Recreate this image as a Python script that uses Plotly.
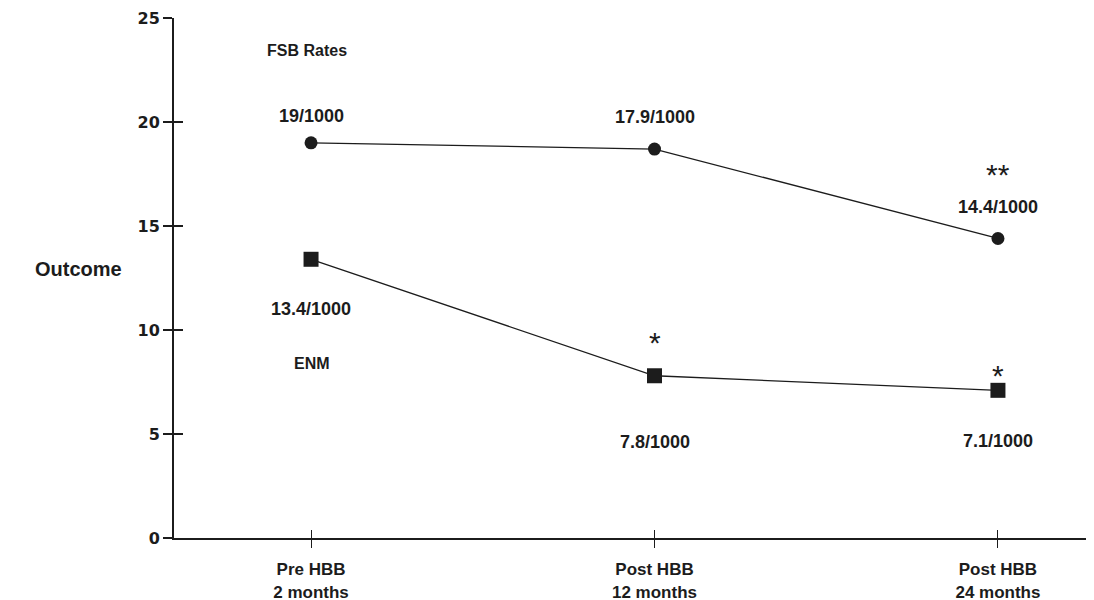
import plotly.graph_objects as go

categories = ["Pre HBB<br>2 months", "Post HBB<br>12 months", "Post HBB<br>24 months"]
fsb_values = [19.0, 18.7, 14.4]
fsb_labels = ["19/1000", "17.9/1000", "14.4/1000"]
enm_values = [13.4, 7.8, 7.1]
enm_labels = ["13.4/1000", "7.8/1000", "7.1/1000"]
y_ticks = [0, 5, 10, 15, 20, 25]

xpos = list(range(len(categories)))
INK = "#1c1c1c"
FONT = "Liberation Sans"

fig = go.Figure()
fig.add_trace(go.Scatter(x=xpos, y=fsb_values, mode="lines+markers",
                         line=dict(color=INK, width=1.3),
                         marker=dict(symbol="circle", size=13, color=INK),
                         showlegend=False, hoverinfo="skip"))
fig.add_trace(go.Scatter(x=xpos, y=enm_values, mode="lines+markers",
                         line=dict(color=INK, width=1.3),
                         marker=dict(symbol="square", size=15, color=INK),
                         showlegend=False, hoverinfo="skip"))
# invisible trace hosting the overlay axes (inner halves of the crossing ticks)
fig.add_trace(go.Scatter(x=xpos, y=fsb_values, xaxis="x2", yaxis="y2", mode="markers",
                         marker=dict(opacity=0), showlegend=False, hoverinfo="skip"))

ann = []
def lab(x, y, text, shift, size=18):
    ann.append(dict(x=x, y=y, xref="x", yref="y", text=f"<b>{text}</b>",
                    showarrow=False, yshift=shift,
                    font=dict(family=FONT, size=size, color=INK)))

fsb_shift = [26.5, 32.5, 31.5]
enm_shift = [-50, -66, -51]
for i in xpos:
    lab(i, fsb_values[i], fsb_labels[i], fsb_shift[i])
    lab(i, enm_values[i], enm_labels[i], enm_shift[i])

def star(x, y, text, shift):
    ann.append(dict(x=x, y=y, xref="x", yref="y", text=text, showarrow=False,
                    yshift=shift, font=dict(family=FONT, size=30, color=INK)))
star(2, fsb_values[2], "**", 64)
star(1, enm_values[1], "*", 33)
star(2, enm_values[2], "*", 15)

# series names
ann.append(dict(x=0, y=23.46, xref="x", yref="y", text="<b>FSB Rates</b>", showarrow=False,
                xshift=-4, font=dict(family=FONT, size=16, color=INK)))
ann.append(dict(x=0, y=8.37, xref="x", yref="y", text="<b>ENM</b>", showarrow=False,
                xshift=1, font=dict(family=FONT, size=16, color=INK)))
# y-axis title (horizontal)
ann.append(dict(x=-0.1045, y=0.517, xref="paper", yref="paper", text="<b>Outcome</b>",
                showarrow=False, xanchor="center", yanchor="middle",
                font=dict(family=FONT, size=20, color=INK)))

xr = [-0.399, 2.268]
yr = [0, 25]
fig.update_layout(
    width=1086, height=592,
    margin=dict(l=166, r=4, t=10, b=62, autoexpand=False),
    plot_bgcolor="white", paper_bgcolor="white",
    annotations=ann,
    xaxis=dict(range=xr, tickmode="array", tickvals=xpos,
               ticktext=[f"<b>{c}</b>" for c in categories],
               showgrid=False, zeroline=False, showline=True, linecolor=INK, linewidth=2,
               ticks="outside", ticklen=8, tickwidth=1.2, tickcolor=INK,
               ticklabelstandoff=7, automargin=False,
               tickfont=dict(family=FONT, size=17, color=INK), fixedrange=True),
    yaxis=dict(range=yr, tickmode="array", tickvals=y_ticks,
               ticktext=[f"<b>{t}</b>" for t in y_ticks],
               showgrid=False, zeroline=False, showline=True, linecolor=INK, linewidth=2,
               ticks="outside", ticklen=9, tickwidth=1.6, tickcolor=INK, automargin=False,
               tickfont=dict(family="DejaVu Sans", size=16, color=INK), fixedrange=True),
    xaxis2=dict(overlaying="x", range=xr, tickmode="array", tickvals=xpos,
                showticklabels=False, showgrid=False, zeroline=False, showline=False,
                ticks="inside", ticklen=8, tickwidth=1.2, tickcolor=INK, side="bottom",
                automargin=False, fixedrange=True),
    yaxis2=dict(overlaying="y", range=yr, tickmode="array", tickvals=y_ticks,
                showticklabels=False, showgrid=False, zeroline=False, showline=False,
                ticks="inside", ticklen=9, tickwidth=1.6, tickcolor=INK, side="left",
                automargin=False, fixedrange=True),
)

fig.write_html("out.html")
